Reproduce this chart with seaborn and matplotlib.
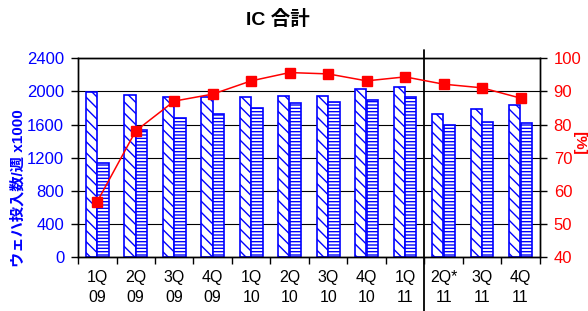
import numpy as np
import pandas as pd
import seaborn as sns
import matplotlib.pyplot as plt

# Data
quarters = ["1Q\n09", "2Q\n09", "3Q\n09", "4Q\n09", "1Q\n10", "2Q\n10",
            "3Q\n10", "4Q\n10", "1Q\n11", "2Q*\n11", "3Q\n11", "4Q\n11"]
capacity = [1998, 1954, 1933, 1933, 1933, 1942, 1949, 2033, 2050, 1728, 1788, 1833]
wafer_starts = [1137, 1532, 1680, 1732, 1805, 1865, 1869, 1897, 1937, 1595, 1628, 1620]
utilization = [56.8, 78.1, 87.1, 89.2, 93.2, 95.7, 95.3, 93.2, 94.4, 92.2, 91.1, 88.0]

left_ticks = [0, 400, 800, 1200, 1600, 2000, 2400]
right_ticks = [40, 50, 60, 70, 80, 90, 100]

BLUE = "#0000FF"
RED = "#FF0000"

sns.set_style("white")
plt.rcParams["font.family"] = ["Liberation Sans", "Noto Sans CJK JP"]
plt.rcParams["hatch.linewidth"] = 1.0
plt.rcParams["text.color"] = "black"
plt.rcParams["xtick.color"] = "black"


def main():
    df = pd.DataFrame({
        "quarter": quarters * 2,
        "value": capacity + wafer_starts,
        "series": ["capacity"] * len(quarters) + ["starts"] * len(quarters),
    })

    fig = plt.figure(figsize=(5.88, 3.11), dpi=100)
    ax = fig.add_axes([0.1327, 0.1727, 0.918 - 0.1327, 0.8125 - 0.1727])

    sns.barplot(data=df, x="quarter", y="value", hue="series", ax=ax,
                width=0.6, gap=0.03, legend=False,
                palette=["white", "white"], edgecolor=BLUE, linewidth=1.2,
                saturation=1)

    n = len(quarters)
    for i, p in enumerate(ax.patches):
        if i < n:
            p.set_hatch("\\\\\\")
        else:
            p.set_hatch("-----")
        p.set_edgecolor(BLUE)

    ax.set_xlim(-0.5, n - 0.5)
    ax.set_ylim(0, 2400)
    ax.set_yticks(left_ticks)
    ax.set_yticklabels([str(t) for t in left_ticks], color=BLUE, fontsize=12)
    ax.yaxis.grid(True, color="black", linewidth=0.8)
    ax.set_axisbelow(True)

    ax.set_xticks(range(n))
    ax.set_xticklabels(quarters, fontsize=11.5, linespacing=1.45, color="black")
    ax.tick_params(axis="x", length=0, pad=9)
    ax.set_xticks(np.arange(-0.5, n, 1), minor=True)
    ax.tick_params(axis="x", which="minor", length=5, width=1, color="black",
                   bottom=True)
    ax.tick_params(axis="y", length=5, width=1, color="black", left=True, pad=5)
    ax.set_xlabel("")
    ax.set_ylabel("ウェハ投入数/週 x1000", color=BLUE, fontsize=11,
                  fontweight="bold", ha="center", va="center")
    ax.yaxis.set_label_coords(-0.13, 0.35)

    for s in ax.spines.values():
        s.set_color("black")
        s.set_linewidth(1.0)

    ax2 = ax.twinx()
    ax2.plot(range(n), utilization, color=RED, linewidth=1.1, marker="s",
             markersize=7, markeredgecolor=RED, markerfacecolor=RED)
    ax2.set_ylim(40, 100)
    ax2.set_yticks(right_ticks)
    ax2.set_yticklabels([str(t) for t in right_ticks], color=RED, fontsize=12)
    ax2.tick_params(axis="y", length=5, width=1, color="black", right=True, pad=5)
    ax2.set_ylabel("[%]", color=RED, fontsize=11, fontweight="bold",
                   rotation=-90, ha="center", va="center")
    ax2.yaxis.set_label_coords(1.086, 0.574)
    for s in ax2.spines.values():
        s.set_color("black")
        s.set_linewidth(1.0)

    # separator between 1Q11 and 2Q*11
    ax.plot([8.5, 8.5], [-0.27, 1.042], color="black", linewidth=1.3,
            transform=ax.get_xaxis_transform(), clip_on=False, zorder=5)

    fig.text(0.473, 0.936, "IC 合計", ha="center", va="center",
             fontsize=14, fontweight="bold", color="black")

    fig.savefig("out.png", dpi=100)


if __name__ == "__main__":
    main()
